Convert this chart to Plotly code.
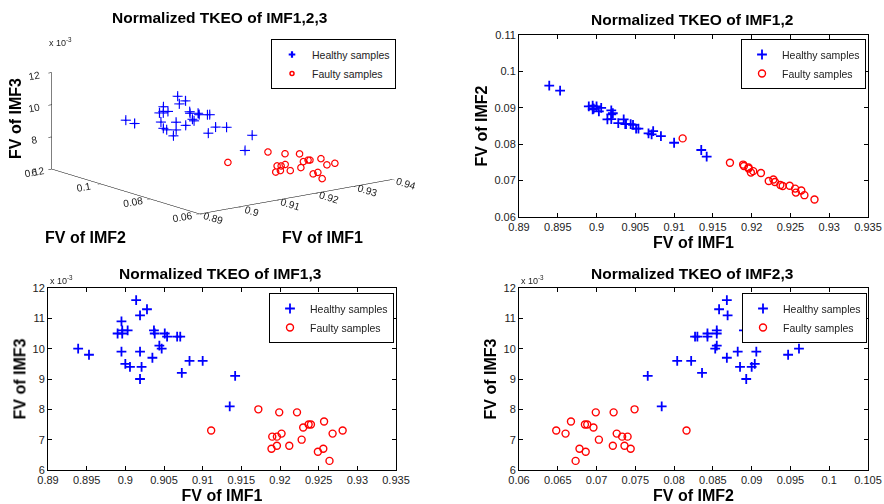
import plotly.graph_objects as go

# ---------------- data ----------------
healthy_imf1 = [0.8939, 0.8953, 0.9014, 0.9028, 0.9019, 0.8995, 0.8990, 0.8996, 0.8996, 0.9003,
                0.8995, 0.9019, 0.9000, 0.9006, 0.9021, 0.9019, 0.9037, 0.9038, 0.9051, 0.9054,
                0.9067, 0.9071, 0.9044, 0.9047, 0.9035, 0.9073, 0.9083, 0.9100, 0.9142, 0.9135]
healthy_imf2 = [0.0961, 0.0947, 0.0868, 0.0858, 0.0869, 0.0896, 0.0904, 0.0898, 0.0898, 0.0890,
                0.0906, 0.0882, 0.0904, 0.0900, 0.0885, 0.0893, 0.0855, 0.0855, 0.0843, 0.0843,
                0.0830, 0.0827, 0.0855, 0.0853, 0.0868, 0.0836, 0.0822, 0.0804, 0.0766, 0.0784]
healthy_imf3 = [0.0100, 0.0098, 0.0116, 0.0113, 0.0111, 0.0109, 0.0105, 0.0105, 0.0106, 0.0106,
                0.0099, 0.0099, 0.0095, 0.0094, 0.0094, 0.0090, 0.0106, 0.0105, 0.0105, 0.0104,
                0.0104, 0.0104, 0.0101, 0.0100, 0.0097, 0.0092, 0.0096, 0.0096, 0.0091, 0.0081]

faulty_imf1 = [0.9111, 0.9172, 0.9199, 0.9222, 0.9190, 0.9196, 0.9202, 0.9189, 0.9196, 0.9212,
               0.9228, 0.9230, 0.9237, 0.9240, 0.9257, 0.9268, 0.9281, 0.9249, 0.9256, 0.9264]
faulty_imf2 = [0.0816, 0.0749, 0.0722, 0.0699, 0.0740, 0.0733, 0.0726, 0.0744, 0.0736, 0.0721,
               0.0703, 0.0696, 0.0688, 0.0685, 0.0667, 0.0660, 0.0648, 0.0686, 0.0678, 0.0673]
faulty_imf3 = [0.0073, 0.0080, 0.0079, 0.0079, 0.0071, 0.0071, 0.0072, 0.0067, 0.0068, 0.0068,
               0.0070, 0.0074, 0.0075, 0.0075, 0.0076, 0.0072, 0.0073, 0.0066, 0.0067, 0.0063]

imf1_ticks = [0.89, 0.895, 0.9, 0.905, 0.91, 0.915, 0.92, 0.925, 0.93, 0.935]
imf1_ticktext = ["0.89", "0.895", "0.9", "0.905", "0.91", "0.915", "0.92", "0.925", "0.93", "0.935"]
imf2_ticks_tr = [0.06, 0.07, 0.08, 0.09, 0.10, 0.11]
imf2_ticktext_tr = ["0.06", "0.07", "0.08", "0.09", "0.1", "0.11"]
imf2_ticks_br = [0.06, 0.065, 0.07, 0.075, 0.08, 0.085, 0.09, 0.095, 0.10, 0.105]
imf2_ticktext_br = ["0.06", "0.065", "0.07", "0.075", "0.08", "0.085", "0.09", "0.095", "0.1", "0.105"]
imf3_ticks = [0.006, 0.007, 0.008, 0.009, 0.010, 0.011, 0.012]
imf3_ticktext = ["6", "7", "8", "9", "10", "11", "12"]

imf1_ticks_3d = [0.89, 0.90, 0.91, 0.92, 0.93, 0.94]
imf1_ticktext_3d = ["0.89", "0.9", "0.91", "0.92", "0.93", "0.94"]
imf2_ticks_3d = [0.06, 0.08, 0.10, 0.12]
imf2_ticktext_3d = ["0.06", "0.08", "0.1", "0.12"]
imf3_ticks_3d = [0.006, 0.008, 0.010, 0.012]
imf3_ticktext_3d = ["6", "8", "10", "12"]

titles = ["Normalized TKEO of IMF1,2,3", "Normalized TKEO of IMF1,2",
          "Normalized TKEO of IMF1,3", "Normalized TKEO of IMF2,3"]
series_names = ["Healthy samples", "Faulty samples"]

# ---------------- styles ----------------
FONT = "Liberation Sans, Arial, Helvetica, sans-serif"
BLUE = "#0000FF"
RED = "#FF0000"
W, H = 884, 504

healthy_marker = dict(symbol="cross-thin", size=7, color=BLUE, line=dict(width=1.8, color=BLUE))
faulty_marker = dict(symbol="circle-open", size=7, color=RED, line=dict(width=1.4, color=RED))

fig = go.Figure()

# 3-D panel
fig.add_trace(go.Scatter3d(x=healthy_imf1, y=healthy_imf2, z=healthy_imf3, mode="markers",
                           name=series_names[0], legend="legend",
                           marker=dict(symbol="cross", size=5.5, color=BLUE)))
fig.add_trace(go.Scatter3d(x=faulty_imf1, y=faulty_imf2, z=faulty_imf3, mode="markers",
                           name=series_names[1], legend="legend",
                           marker=dict(symbol="circle-open", size=4, color=RED, line=dict(width=1.5, color=RED))))

# 2-D panels
pairs = [
    ("x", "y", healthy_imf1, healthy_imf2, faulty_imf1, faulty_imf2, "legend2"),
    ("x2", "y2", healthy_imf1, healthy_imf3, faulty_imf1, faulty_imf3, "legend3"),
    ("x3", "y3", healthy_imf2, healthy_imf3, faulty_imf2, faulty_imf3, "legend4"),
]
for xa, ya, hx, hy, fx, fy, lg in pairs:
    fig.add_trace(go.Scatter(x=hx, y=hy, mode="markers", name=series_names[0], xaxis=xa, yaxis=ya,
                             legend=lg, marker=healthy_marker))
    fig.add_trace(go.Scatter(x=fx, y=fy, mode="markers", name=series_names[1], xaxis=xa, yaxis=ya,
                             legend=lg, marker=faulty_marker))


def px_x(p):
    return p / W


def px_y(p):
    return 1 - p / H


axis_common = dict(showgrid=False, zeroline=False, showline=True, linecolor="black", linewidth=1,
                   mirror="allticks", ticks="inside", ticklen=4, tickcolor="black",
                   tickfont=dict(family=FONT, size=11, color="#222"), automargin=False)
title_font = dict(family=FONT, size=16, color="black")

right_dom = [px_x(519), px_x(868)]
left_dom = [px_x(48), px_x(396)]
top_dom = [px_y(217), px_y(35)]
bot_dom = [px_y(470), px_y(288)]

fig.update_layout(
    xaxis=dict(axis_common, domain=right_dom, anchor="y", range=[0.89, 0.935],
               tickvals=imf1_ticks, ticktext=imf1_ticktext,
               title=dict(text="<b>FV of IMF1</b>", font=title_font, standoff=4)),
    yaxis=dict(axis_common, domain=top_dom, anchor="x", range=[0.06, 0.11],
               tickvals=imf2_ticks_tr, ticktext=imf2_ticktext_tr,
               title=dict(text="<b>FV of IMF2</b>", font=title_font, standoff=2)),
    xaxis2=dict(axis_common, domain=left_dom, anchor="y2", range=[0.89, 0.935],
                tickvals=imf1_ticks, ticktext=imf1_ticktext,
                title=dict(text="<b>FV of IMF1</b>", font=title_font, standoff=4)),
    yaxis2=dict(axis_common, domain=bot_dom, anchor="x2", range=[0.006, 0.012],
                tickvals=imf3_ticks, ticktext=imf3_ticktext,
                title=dict(text="<b>FV of IMF3</b>", font=title_font, standoff=2)),
    xaxis3=dict(axis_common, domain=right_dom, anchor="y3", range=[0.06, 0.105],
                tickvals=imf2_ticks_br, ticktext=imf2_ticktext_br,
                title=dict(text="<b>FV of IMF2</b>", font=title_font, standoff=4)),
    yaxis3=dict(axis_common, domain=bot_dom, anchor="x3", range=[0.006, 0.012],
                tickvals=imf3_ticks, ticktext=imf3_ticktext,
                title=dict(text="<b>FV of IMF3</b>", font=title_font, standoff=2)),
)

ax3d = dict(showgrid=False, showbackground=False, zeroline=False, showline=True, linecolor="black",
            linewidth=1, ticks="outside", ticklen=4, tickcolor="black", showspikes=False,
            tickfont=dict(family=FONT, size=11, color="#222"), title=dict(text=""))
R = 1.9
fig.update_layout(scene=dict(
    domain=dict(x=[0.0, px_x(444)], y=[px_y(250), px_y(2)]),
    xaxis=dict(ax3d, range=[0.89, 0.94], tickvals=imf1_ticks_3d, ticktext=imf1_ticktext_3d),
    yaxis=dict(ax3d, range=[0.06, 0.12], tickvals=imf2_ticks_3d, ticktext=imf2_ticktext_3d),
    zaxis=dict(ax3d, range=[0.006, 0.012], tickvals=imf3_ticks_3d, ticktext=imf3_ticktext_3d),
    aspectmode="manual", aspectratio=dict(x=1.96, y=1.96, z=0.8),
    camera=dict(eye=dict(x=-0.592 * R, y=-0.771 * R, z=0.233 * R),
                center=dict(x=0, y=0, z=0), up=dict(x=0, y=0, z=1),
                projection=dict(type="orthographic")),
))

leg_common = dict(bgcolor="white", bordercolor="black", borderwidth=1,
                  font=dict(family=FONT, size=10.5, color="#222"), xanchor="right", yanchor="top",
                  itemclick=False, itemdoubleclick=False)
fig.update_layout(
    legend=dict(leg_common, x=px_x(396), y=px_y(39)),
    legend2=dict(leg_common, x=px_x(866), y=px_y(39)),
    legend3=dict(leg_common, x=px_x(394), y=px_y(293)),
    legend4=dict(leg_common, x=px_x(867), y=px_y(293)),
)

title_pos = [(220, 18), (692, 20), (220, 273), (692, 273)]
annotations = []
for t, (cx, cy) in zip(titles, title_pos):
    annotations.append(dict(text="<b>" + t + "</b>", x=px_x(cx), y=px_y(cy), xref="paper", yref="paper",
                            xanchor="center", yanchor="middle", showarrow=False,
                            font=dict(family=FONT, size=15.5, color="black")))
for ex, ey in [(47, 42), (48, 280), (519, 280)]:
    annotations.append(dict(text="x 10<sup>-3</sup>", x=px_x(ex), y=px_y(ey), xref="paper", yref="paper",
                            xanchor="left", yanchor="middle", showarrow=False,
                            font=dict(family=FONT, size=9, color="#222")))
# 3-D axis titles
for txt, (cx, cy), ang in [("FV of IMF2", (85, 237), 0), ("FV of IMF1", (322, 237), 0),
                           ("FV of IMF3", (15, 119), -90)]:
    annotations.append(dict(text="<b>" + txt + "</b>", x=px_x(cx), y=px_y(cy), xref="paper", yref="paper",
                            xanchor="center", yanchor="middle", showarrow=False, textangle=ang,
                            font=title_font))

fig.update_layout(width=W, height=H, margin=dict(l=0, r=0, t=0, b=0), paper_bgcolor="white",
                  plot_bgcolor="white", showlegend=True, annotations=annotations)

fig.write_html("out.html", config={"displayModeBar": False},
               post_script="document.body.style.margin='0';document.body.style.overflow='hidden';")
